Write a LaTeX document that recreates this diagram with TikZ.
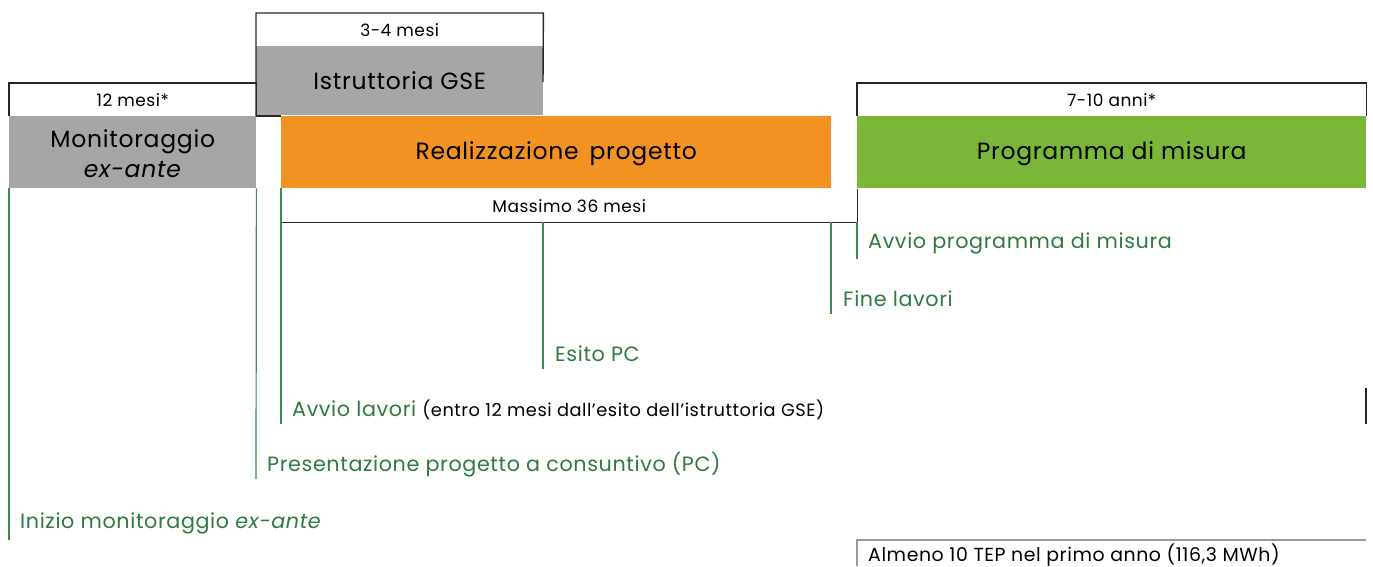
\documentclass[tikz,border=0pt]{standalone}
\usepackage{fontspec}
\setmainfont{Poppins}[LetterSpace=3]
\definecolor{boxgray}{HTML}{A6A6A6}
\definecolor{boxorange}{HTML}{F29222}
\definecolor{boxgreen}{HTML}{7AB638}
\definecolor{txtgreen}{HTML}{2F7A3E}
\definecolor{lngreen}{HTML}{3C8A50}
\definecolor{lngray}{HTML}{9A9A9A}
\begin{document}
\begin{tikzpicture}[x=1pt,y=-1pt,
  bar/.style={inner sep=0pt, anchor=north west, text=black},
  hdr/.style={inner sep=0pt, anchor=north west, text=black, font=\fontsize{17}{20}\selectfont},
  hdrline/.style={draw=black!85, line width=1.4pt},
  marker/.style={draw=lngreen, line width=1.2pt},
  lbl/.style={anchor=west, inner sep=0pt, text=txtgreen, font=\fontsize{20.7}{24}\selectfont},
  bigtxt/.style={font=\fontsize{23.5}{30}\selectfont, align=center}
]
\useasboundingbox (0,0) rectangle (1373,566);

% bars
\node[bar, fill=boxgray, minimum width=247pt, minimum height=72pt] (mon) at (9,116) {};
\node[bigtxt] (montxt) at ([yshift=-1pt]mon.center) {Monitoraggio\\\textit{ex-ante}};
\node[bar, fill=boxgray, minimum width=287pt, minimum height=69pt] (ist) at (256,46) {};
\node[bigtxt] (isttxt) at (ist.center) {Istruttoria GSE};
\node[bar, fill=boxorange, minimum width=550pt, minimum height=72pt] (real) at (281,116) {};
\node[bigtxt] (realtxt) at ([yshift=-2pt]real.center) {Realizzazione\, progetto};
\node[bar, fill=boxgreen, minimum width=509pt, minimum height=72pt] (prog) at (857,116) {};
\node[bigtxt] (progtxt) at ([yshift=-2pt]prog.center) {Programma di misura};

% headers
\node[hdr, minimum width=247pt, minimum height=33pt] (h1) at (9,83) {12 mesi*};
\draw[hdrline] (h1.south west) |- (h1.north east) -- (h1.south east);
\node[hdr, minimum width=287pt, minimum height=33pt] (h2) at (256,13) {3-4 mesi};
\coordinate (h2r) at (543,82);
\coordinate (h2l) at (256,116);
\draw[hdrline] (h2l) -- (h2.north west) -- (h2.north east) -- (h2r);
\draw[hdrline] (h2l) -- (real.north west);
\node[hdr, minimum width=509pt, minimum height=33pt] (h3) at (857,83) {7-10 anni*};
\draw[hdrline] (h3.south west) |- (h3.north east) -- (h3.south east);
\node[hdr, minimum width=576pt, minimum height=33pt] (h4) at (281,189) {Massimo 36 mesi};
\draw[hdrline] (h4.south west) -- (h4.south east) -- (h4.north east);

% markers
\coordinate (m1) at (9,540);
\coordinate (m2) at (256,479);
\coordinate (m3) at (281,424);
\coordinate (m4t) at (543,222);
\coordinate (m4) at (543,369);
\coordinate (m5t) at (831,222);
\coordinate (m5) at (831,314);
\coordinate (m6t) at (857,222);
\coordinate (m6) at (857,259);
\draw[marker] (mon.south west) -- (m1);
\draw[marker] (mon.south east) -- (m2);
\draw[marker] (real.south west) -- (m3);
\draw[marker] (m4t) -- (m4);
\draw[marker] (m5t) -- (m5);
\draw[marker] (m6t) -- (m6);

\node[lbl] (l1) at (20,523.5) {Inizio monitoraggio \textit{ex-ante}};
\node[lbl] (l2) at (267,464.5) {Presentazione progetto a consuntivo (PC)};
\node[lbl] (l3) at (292,409.5) {Avvio lavori \fontsize{17.8}{20}\selectfont\color{black}(entro 12 mesi dall’esito dell’istruttoria GSE)};
\node[lbl] (l4) at (555,353.5) {Esito PC};
\node[lbl] (l5) at (843,298.5) {Fine lavori};
\node[lbl] (l6) at (868,243.5) {Avvio programma di misura};

\coordinate (e1) at (1366,388);
\coordinate (e2) at (1366,424);
\draw[draw=black!85, line width=1.4pt] (e1) -- (e2);

% bottom box
\node[anchor=west, inner sep=0pt, font=\fontsize{18.9}{22}\selectfont] (tep) at (868,555) {Almeno 10 TEP nel primo anno (116,3 MWh)};
\coordinate (t1) at (857,566);
\coordinate (t2) at (857,540);
\coordinate (t3) at (1366,540);
\draw[draw=lngray, line width=1.4pt] (t1) -- (t2) -- (t3);
\end{tikzpicture}
\end{document}
